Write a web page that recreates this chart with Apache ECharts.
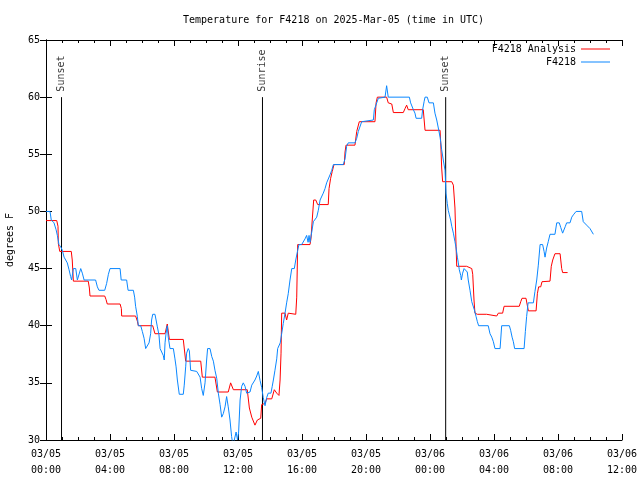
<!DOCTYPE html>
<html><head><meta charset="utf-8">
<script src="https://cdn.jsdelivr.net/npm/echarts@6/dist/echarts.min.js"></script>
<style>html,body{margin:0;padding:0;background:#fff}#c{width:640px;height:480px}</style>
</head><body><div id="c"></div>
<script>
// x values are hours since 2025-03-05 00:00 UTC
const xTickLabels = ['03/05\n00:00','03/05\n04:00','03/05\n08:00','03/05\n12:00','03/05\n16:00','03/05\n20:00','03/06\n00:00','03/06\n04:00','03/06\n08:00','03/06\n12:00'];
const seriesNames = ['F4218 Analysis', 'F4218'];
const sunNames = ['Sunset', 'Sunrise', 'Sunset'];
const sunHours = [0.97, 13.53, 24.98];

const analysisData = [[0,49.2],[0.67,49.2],[0.75,48.7],[0.77,47.2],[0.86,46.5],[1.58,46.5],[1.64,45.75],[1.71,43.9],[2.64,43.9],[2.71,43.3],[2.75,42.6],[3.67,42.6],[3.75,42.3],[3.83,41.9],[4.63,41.9],[4.71,41.5],[4.73,40.85],[5.6,40.85],[5.71,40.4],[5.77,40],[6.67,40],[6.81,39.3],[7.44,39.3],[7.58,40.15],[7.71,38.8],[8.58,38.8],[8.73,36.9],[9.67,36.9],[9.77,35.5],[10.56,35.5],[10.71,34.2],[11.39,34.2],[11.54,35],[11.71,34.4],[12.58,34.4],[12.71,32.8],[12.86,32],[13.06,31.3],[13.21,31.75],[13.42,31.9],[13.48,33.1],[13.69,33.2],[13.79,33.6],[14.11,33.6],[14.27,34.4],[14.42,34.1],[14.56,33.9],[14.63,35.25],[14.69,37.6],[14.73,41.1],[14.94,41.1],[15.04,40.5],[15.14,41.1],[15.61,41],[15.67,42.5],[15.73,47.1],[16.5,47.1],[16.56,47.6],[16.64,49.25],[16.73,51],[16.86,51],[16.98,50.6],[17.64,50.6],[17.69,52],[17.79,52.9],[17.89,53.5],[18.0,54.1],[18.64,54.1],[18.69,55.2],[18.75,55.8],[19.31,55.8],[19.42,57],[19.58,57.85],[20.56,57.85],[20.63,59.5],[20.71,60],[21.29,60],[21.39,59.5],[21.61,59.4],[21.71,58.65],[22.33,58.65],[22.44,59],[22.54,59.3],[22.64,58.9],[23.58,58.9],[23.69,57.1],[24.63,57.1],[24.67,56],[24.73,53.8],[24.79,52.6],[25.36,52.6],[25.46,52.3],[25.56,50.3],[25.63,46.9],[25.67,45.2],[26.29,45.2],[26.61,45],[26.67,44.5],[26.75,42.25],[26.81,41.1],[26.96,41],[27.54,41],[27.64,40.85],[28.17,40.85],[28.27,41.1],[28.54,41.1],[28.63,41.7],[29.58,41.7],[29.67,42.1],[29.75,42.4],[30.0,42.4],[30.08,41.8],[30.15,41.3],[30.63,41.3],[30.71,42.8],[30.79,43.4],[30.92,43.4],[31.0,43.85],[31.5,43.9],[31.58,45.2],[31.67,45.75],[31.81,46.3],[32.13,46.3],[32.23,45],[32.29,44.65],[32.6,44.65]];

const stationData = [[0,50],[0.25,50],[0.33,49.25],[0.5,49],[0.63,48.4],[0.71,47.9],[0.81,47.1],[0.92,46.9],[1.02,46.6],[1.13,46],[1.23,45.9],[1.33,45.5],[1.44,44.9],[1.54,44.3],[1.6,44],[1.71,45],[1.86,45],[1.96,44],[2.06,44],[2.17,45],[2.27,44.6],[2.38,44],[3.1,44],[3.21,43.4],[3.31,43.1],[3.67,43.1],[3.79,43.7],[3.9,44.5],[4.0,45],[4.63,45],[4.7,44],[5.04,44],[5.13,43.1],[5.46,43.1],[5.54,42.5],[5.6,41.7],[5.71,40.8],[5.77,40],[5.92,40],[6.02,39.5],[6.13,38.9],[6.23,38],[6.33,38],[6.44,38.5],[6.54,39.3],[6.6,40.5],[6.67,41],[6.81,41],[6.88,40.5],[6.96,39.9],[7.06,39.2],[7.13,38],[7.23,38],[7.33,37.4],[7.39,37],[7.44,38.5],[7.5,39.3],[7.58,40],[7.64,39],[7.75,38],[7.96,38],[8.06,37.1],[8.13,36.4],[8.21,35.25],[8.33,34],[8.58,34],[8.64,34.8],[8.73,36.4],[8.79,37.6],[8.89,38],[8.96,37.8],[9.04,36.1],[9.42,36],[9.63,35.5],[9.73,34.5],[9.83,33.9],[9.94,35],[10.04,37],[10.1,38],[10.25,38],[10.36,37.3],[10.46,36.9],[10.56,36.1],[10.67,35.4],[10.77,34.1],[10.88,33.1],[10.98,32],[11.08,32.3],[11.19,32.9],[11.29,33.8],[11.35,33.8],[11.39,32.9],[11.5,31.75],[11.6,30.3],[11.69,29.5],[11.81,29.5],[11.88,30.7],[11.97,30],[12.04,30.7],[12.13,33.5],[12.23,34.7],[12.33,35],[12.44,34.7],[12.54,34.1],[12.64,34.1],[12.75,34.2],[12.86,34.8],[13.06,35.25],[13.17,35.6],[13.27,36],[13.38,35.2],[13.48,34.6],[13.58,33.7],[13.69,33],[13.79,33.7],[13.89,34.1],[14.06,34.1],[14.14,34.7],[14.21,35.25],[14.31,36.1],[14.42,37.1],[14.48,38],[14.56,38],[14.64,38.5],[14.73,39.3],[14.83,40.2],[14.94,41.1],[15.04,42],[15.14,42.8],[15.25,44],[15.36,45],[15.52,45],[15.61,45.75],[15.73,46.6],[15.81,47.1],[15.98,47.1],[16.08,47.2],[16.19,47.6],[16.29,47.9],[16.38,47.3],[16.44,47.9],[16.5,47.3],[16.61,48.2],[16.71,49.1],[16.81,49.1],[16.92,49.5],[17.02,50.1],[17.13,51],[17.23,51],[17.33,51.6],[17.44,52],[17.54,52.5],[17.64,52.5],[17.75,53.2],[17.86,53.6],[17.96,54.1],[18.58,54.1],[18.69,54.6],[18.79,55.7],[18.89,56],[19.31,56],[19.42,56.4],[19.52,57],[19.63,57],[19.73,57.85],[19.83,58],[20.46,58],[20.52,58.9],[20.67,59.5],[20.77,59.9],[20.88,60],[21.19,60],[21.29,61],[21.39,60],[22.71,60],[22.79,59.5],[22.85,59.5],[22.96,58.9],[23.06,58.6],[23.13,58.15],[23.48,58.15],[23.54,58.9],[23.63,59.6],[23.69,60],[23.83,60],[23.94,59.5],[24.21,59.5],[24.31,58.6],[24.42,58],[24.52,57.3],[24.63,56.5],[24.73,55.4],[24.83,54.5],[24.94,53.6],[25.0,51.6],[25.08,50.7],[25.14,50.1],[25.21,49.7],[25.29,49.25],[25.36,48.7],[25.46,48.1],[25.56,47.35],[25.63,46.8],[25.71,46],[25.77,45.5],[25.83,44.9],[25.92,44.4],[25.96,44],[26.04,44.6],[26.13,45],[26.25,45],[26.33,44.7],[26.39,44],[26.5,43.1],[26.61,42.1],[26.71,42.1],[26.77,41.4],[26.88,40.8],[26.96,40.35],[27.04,40],[27.64,40],[27.75,39.3],[27.86,39],[27.96,38.6],[28.06,38],[28.38,38],[28.48,40],[28.96,40],[29.04,39.6],[29.13,39],[29.21,38.6],[29.29,38],[29.88,38],[29.96,39.5],[30.04,40.8],[30.13,42],[30.46,42],[30.56,43],[30.67,44],[30.77,45.3],[30.88,47.1],[31.04,47.1],[31.13,46.5],[31.19,46],[31.29,46.8],[31.39,47.35],[31.5,48],[31.81,48],[31.92,49],[32.08,49],[32.17,48.6],[32.29,48.1],[32.38,48.1],[32.46,48.7],[32.54,49],[32.75,49],[32.86,49.5],[32.96,49.7],[33.13,50],[33.48,50],[33.58,49.1],[33.79,48.8],[34.0,48.5],[34.21,48]];

const FONT = 'DejaVu Sans Mono';
const txt = {fontFamily: FONT, fontSize: 10, color: '#000'};
const chart = echarts.init(document.getElementById('c'), null, {renderer: 'canvas'});

const axisCommon = {
  axisLine: {show: true, lineStyle: {color: '#000', width: 1}},
  axisTick: {show: true, inside: true, length: 6, lineStyle: {color: '#000'}},
  splitLine: {show: false}
};

const sunLineSeries = sunHours.map(h => ({
  type: 'line', data: [[h, 30], [h, 60]], showSymbol: false, silent: true,
  lineStyle: {color: '#000', width: 1}, itemStyle: {color: '#000'}, z: 1
}));

const option = {
  animation: false,
  backgroundColor: '#fff',
  title: {text: 'Temperature for F4218 on 2025-Mar-05 (time in UTC)', left: 178, top: 10,
    textStyle: Object.assign({fontWeight: 'normal'}, txt)},
  legend: [
    {data: [seriesNames[0]], right: 25, top: 39, align: 'right', icon: 'rect', itemWidth: 29, itemHeight: 1,
      textStyle: txt, selectedMode: false},
    {data: [seriesNames[1]], right: 25, top: 52, align: 'right', icon: 'rect', itemWidth: 29, itemHeight: 1,
      textStyle: txt, selectedMode: false}
  ],
  grid: {left: 46, right: 18, top: 40, bottom: 40, outerBoundsMode: 'none', containLabel: false},
  xAxis: [
    Object.assign({type: 'value', min: 0, max: 36, interval: 4, position: 'bottom',
      minorTick: {show: true, splitNumber: 4, length: 3, lineStyle: {color: '#000'}},
      axisLabel: Object.assign({formatter: v => xTickLabels[Math.round(v / 4)], lineHeight: 16, margin: 6}, txt)}, axisCommon),
    Object.assign({type: 'value', min: 0, max: 36, interval: 4, position: 'top',
      minorTick: {show: true, splitNumber: 4, length: 3, lineStyle: {color: '#000'}},
      axisLabel: {show: false}}, axisCommon)
  ],
  yAxis: [
    Object.assign({type: 'value', min: 30, max: 65, interval: 5, position: 'left',
      name: 'degrees F', nameLocation: 'middle', nameGap: 31, nameTextStyle: txt,
      axisLabel: Object.assign({margin: 6}, txt)}, axisCommon),
    Object.assign({type: 'value', min: 30, max: 65, interval: 5, position: 'right',
      axisLabel: {show: false}}, axisCommon)
  ],
  series: [
    ...sunLineSeries,
    {type: 'scatter', data: sunHours.map((h, i) => ({value: [h, 60], name: sunNames[i]})),
      symbolSize: 1, itemStyle: {color: 'rgba(0,0,0,0)'}, silent: true,
      label: Object.assign({show: true, formatter: '{b}', position: 'top', distance: 5, rotate: 90,
        align: 'left', verticalAlign: 'middle'}, txt)},
    {name: seriesNames[0], type: 'line', data: analysisData, showSymbol: false, clip: true,
      lineStyle: {color: '#ff0000', width: 1}, itemStyle: {color: '#ff0000'}, z: 3},
    {name: seriesNames[1], type: 'line', data: stationData, showSymbol: false, clip: true,
      lineStyle: {color: '#0a87ff', width: 1}, itemStyle: {color: '#0a87ff'}, z: 4}
  ]
};
chart.setOption(option);
</script></body></html>
